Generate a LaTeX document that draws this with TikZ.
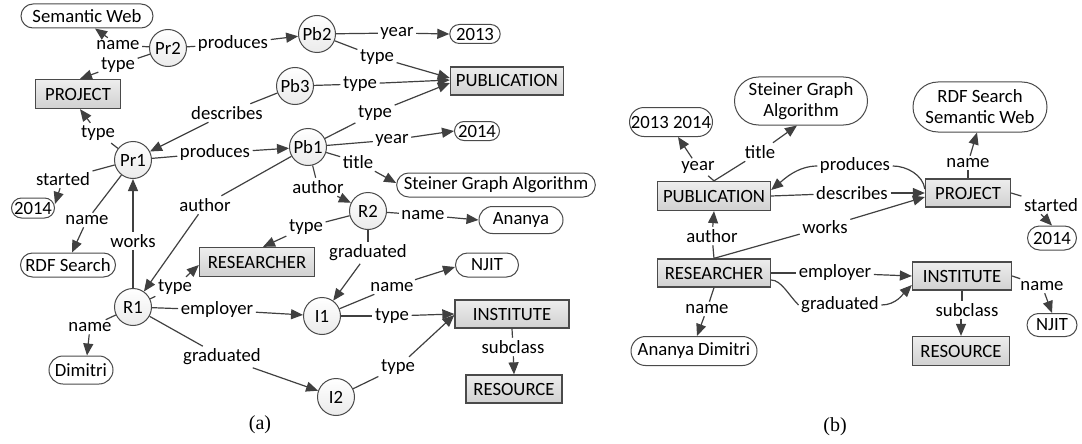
\documentclass[tikz,border=0pt]{standalone}
\usepackage{fontspec}
\setmainfont{Carlito}
\newfontfamily\capfont{Liberation Serif}
\usetikzlibrary{arrows.meta,shapes.misc}
\definecolor{linecol}{HTML}{404040}
\definecolor{edgecol}{HTML}{4A4A4A}
\begin{document}
\begin{tikzpicture}[x=1pt,y=-1pt,
  font=\fontsize{18.7}{21}\selectfont,
  lnk/.style={draw=linecol, line width=1.2pt},
  arr/.style={lnk, -{Triangle[length=12pt,width=10pt]}},
  inst/.style={circle, draw=edgecol, line width=1pt, top color=white, bottom color=gray!16,
               minimum size=37pt, inner sep=0pt},
  cls/.style={rectangle, draw=edgecol, line width=1.3pt, top color=gray!14, bottom color=gray!36,
              minimum height=28pt, inner sep=0pt},
  val/.style={rounded rectangle, draw=edgecol, line width=1pt, fill=white,
              minimum height=24pt, inner xsep=4pt, inner ysep=0pt},
  lbl/.style={inner sep=2.5pt},
  capt/.style={font=\capfont\fontsize{20}{22}\selectfont}]
\useasboundingbox (0,0) rectangle (1082,444);

% ---------------- (a) instance graph ----------------
\node[inst] (aPr2) at (168,48) {Pr2};
\node[inst] (aPb2) at (317,34) {Pb2};
\node[inst] (aPb3) at (295,86) {Pb3};
\node[inst] (aPb1) at (308,147) {Pb1};
\node[inst] (aPr1) at (133,160) {Pr1};
\node[inst] (aR2) at (368,211) {R2};
\node[inst] (aR1) at (133,307) {R1};
\node[inst] (aI1) at (322,316) {I1};
\node[inst] (aI2) at (336,397) {I2};

\node[cls, minimum width=85pt, minimum height=29pt] (aProject) at (78,94) {PROJECT};
\node[cls, minimum width=113pt] (aPub) at (507,81) {PUBLICATION};
\node[cls, minimum width=115pt, minimum height=29pt] (aRes) at (257,262) {RESEARCHER};
\node[cls, minimum width=114pt] (aInst) at (512,314) {INSTITUTE};
\node[cls, minimum width=96pt] (aResource) at (514,389) {RESOURCE};

\node[val, minimum width=140pt] (aSemWeb) at (87,16) {Semantic Web};
\node[val, minimum width=50pt, minimum height=19pt] (a2013) at (475,34) {2013};
\node[val, minimum width=53pt, minimum height=19pt] (a2014b) at (477,131) {2014};
\node[val, minimum width=198pt] (aSteiner) at (496,185) {Steiner Graph Algorithm};
\node[val, minimum width=92pt, minimum height=27pt] (aAnanya) at (521,220) {Ananya};
\node[val, minimum width=71pt] (aNJIT) at (487,265) {NJIT};
\node[val, minimum width=72pt, minimum height=28pt] (aDimitri) at (81,370) {Dimitri};
\node[val, minimum width=51pt, minimum height=20pt] (a2014) at (33,208) {2014};
\node[val, minimum width=103pt] (aRDF) at (68,265) {RDF Search};

% edge labels
\node[lbl] (l1) at (118,45) {name};
\node[lbl] (l2) at (118,65) {type};
\node[lbl] (l3) at (233,44) {produces};
\node[lbl] (l4) at (397,33) {year};
\node[lbl] (l5) at (377,57) {type};
\node[lbl] (l6) at (360,84) {type};
\node[lbl] (l7) at (375,113) {type};
\node[lbl] (l8) at (392,140) {year};
\node[lbl] (l9) at (358,162) {title};
\node[lbl] (l10) at (318,187) {author};
\node[lbl] (l11) at (423,215) {name};
\node[lbl] (l12) at (306,227) {type};
\node[lbl] (l13) at (368,253) {graduated};
\node[lbl] (l14) at (392,287) {name};
\node[lbl] (l15) at (392,316) {type};
\node[lbl] (l16) at (398,367) {type};
\node[lbl] (l17) at (513,347) {subclass};
\node[lbl] (l18) at (222,357) {graduated};
\node[lbl] (l19) at (217,310) {employer};
\node[lbl] (l20) at (175,287) {type};
\node[lbl] (l21) at (90,327) {name};
\node[lbl] (l22) at (133,241) {works};
\node[lbl] (l23) at (205,205) {author};
\node[lbl] (l24) at (215,153) {produces};
\node[lbl] (l25) at (227,113) {describes};
\node[lbl] (l26) at (98,133) {type};
\node[lbl] (l27) at (63,179) {started};
\node[lbl] (l28) at (87,220) {name};

% connectors
\draw[lnk] (aPr2) -- (l1);  \draw[arr] (l1) -- ([xshift=8pt]aSemWeb.south);
\draw[lnk] (aPr2) -- (l2);  \draw[arr] (l2) -- ([xshift=2pt]aProject.north);
\draw[lnk] (aPr2) -- (l3);  \draw[arr] (l3) -- (aPb2);
\draw[lnk] (aPb2) -- (l4);  \draw[arr] (l4) -- (a2013.west);
\draw[lnk] (aPb2) -- (l5);  \draw[arr] (l5) -- ([yshift=3pt]aPub.west);
\draw[lnk] (aPb3) -- (l6);  \draw[arr] (l6) -- ([yshift=1pt]aPub.west);
\draw[lnk] (aPb1) -- (l7);  \draw[arr] (l7) -- ([yshift=-2pt]aPub.west);
\draw[lnk] (aPb1) -- (l8);  \draw[arr] (l8) -- (a2014b.west);
\draw[lnk] (aPb1) -- (l9);  \draw[arr] (l9) -- ([yshift=2pt]aSteiner.west);
\draw[lnk] (aPb1) -- (l10); \draw[arr] (l10) -- (aR2);
\draw[lnk] (aR2) -- (l11);  \draw[arr] (l11) -- (aAnanya.west);
\draw[lnk] (aR2) -- (l12);  \draw[arr] (l12) -- ([xshift=6pt]aRes.north);
\draw[lnk] (aR2) -- (l13);  \draw[arr] (l13) -- (aI1);
\draw[lnk] (aI1) -- (l14);  \draw[arr] (l14) -- ([yshift=-2pt]aNJIT.west);
\draw[lnk] (aI1) -- (l15);  \draw[arr] (l15) -- (aInst.west);
\draw[lnk] (aI2) -- (l16);  \draw[arr] (l16) -- ([yshift=-1pt]aInst.west);
\draw[lnk] (aInst.south) -- (l17); \draw[arr] (l17) -- (aResource.north);
\draw[lnk] (aR1) -- (l18);  \draw[arr] (l18) -- (aI2);
\draw[lnk] (aR1) -- (l19);  \draw[arr] (l19) -- (aI1);
\draw[lnk] (aR1) -- (l20);  \draw[arr] (l20) -- ([yshift=-3pt]aRes.west);
\draw[lnk] (aR1) -- (l21);  \draw[arr] (l21) -- ([xshift=6pt]aDimitri.north);
\draw[lnk] (aR1) -- (l22);  \draw[arr] (l22) -- (aPr1);
\draw[lnk] (aPb1) -- (l23); \draw[arr] (l23) -- (aR1);
\draw[lnk] (aPr1) -- (l24); \draw[arr] (l24) -- (aPb1);
\draw[lnk] (aPb3) -- (l25); \draw[arr] (l25) -- (aPr1);
\draw[lnk] (aPr1) -- (l26); \draw[arr] (l26) -- ([xshift=2pt]aProject.south);
\draw[lnk] (aPr1) -- (l27); \draw[arr] (l27) -- ([yshift=4pt]a2014.east);
\draw[lnk] (aPr1) -- (l28); \draw[arr] (l28) -- ([xshift=4pt]aRDF.north);

\node[capt] (capA) at (260,425) {(a)};

% ---------------- (b) summary graph ----------------
\node[val, minimum width=91pt, minimum height=29pt] (bYears) at (671,122) {2013 2014};
\node[val, align=center, minimum width=141pt, minimum height=48pt] (bSteiner) at (801,101) {Steiner Graph\\Algorithm};
\node[val, align=center, minimum width=142pt, minimum height=50pt] (bRDF) at (980,107) {RDF Search\\Semantic Web};
\node[cls, minimum width=113pt, minimum height=29pt] (bPub) at (714,196) {PUBLICATION};
\node[cls, minimum width=85pt] (bProject) at (968,193) {PROJECT};
\node[val, minimum width=57pt] (b2014) at (1052,238) {2014};
\node[cls, minimum width=113pt] (bRes) at (714,273) {RESEARCHER};
\node[cls, minimum width=99pt] (bInst) at (962,276) {INSTITUTE};
\node[val, minimum width=58pt, minimum height=23pt] (bNJIT) at (1052,325) {NJIT};
\node[cls, minimum width=97pt, minimum height=29pt] (bResource) at (961,351) {RESOURCE};
\node[val, minimum width=134pt, minimum height=29pt] (bAD) at (694,351) {Ananya Dimitri};

\node[lbl] (m1) at (698,167) {year};
\node[lbl] (m2) at (760,152) {title};
\node[lbl] (m3) at (855,166) {produces};
\node[lbl] (m4) at (852,193) {describes};
\node[lbl] (m5) at (825,227) {works};
\node[lbl] (m6) at (712,236) {author};
\node[lbl] (m7) at (968,163) {name};
\node[lbl] (m8) at (1051,205) {started};
\node[lbl] (m9) at (835,273) {employer};
\node[lbl] (m10) at (840,305) {graduated};
\node[lbl] (m11) at (1042,286) {name};
\node[lbl] (m12) at (967,310) {subclass};
\node[lbl] (m13) at (707,309) {name};

\draw[lnk] (bPub.north) -- (m1); \draw[arr] (m1) -- ([xshift=7pt]bYears.south);
\draw[lnk] (bPub.north) -- (m2); \draw[arr] (m2) -- ([xshift=-4pt]bSteiner.south);
\draw[lnk] ([yshift=4pt]bProject.west) .. controls +(-2,-14) and +(14,0) .. (m3.east);
\draw[arr] (m3.west) .. controls +(-20,0) and +(12,-10) .. ([yshift=6pt]bPub.east);
\draw[lnk] (bPub.east) -- (m4); \draw[arr] (m4) -- (bProject.west);
\draw[lnk] (bRes.north) -- (m5); \draw[arr] (m5) -- ([yshift=-4pt]bProject.west);
\draw[lnk] (bRes.north) -- (m6); \draw[arr] (m6) -- (bPub.south);
\draw[lnk] (bProject.north) -- (m7); \draw[arr] (m7) -- ([xshift=-3pt]bRDF.south);
\draw[lnk] (bProject.east) -- (m8); \draw[arr] ([xshift=-10pt]m8.south) -- (b2014.north);
\draw[lnk] (bRes.east) -- (m9); \draw[arr] (m9) -- (bInst.west);
\draw[lnk] ([yshift=-7pt]bRes.east) .. controls +(10,0) and +(-10,-10) .. (m10.west);
\draw[arr] (m10.east) .. controls +(15,0) and +(-8,8) .. ([yshift=-9pt]bInst.west);
\draw[lnk] (bInst.east) -- (m11); \draw[arr] (m11) -- (bNJIT.north);
\draw[lnk] (bInst.south) -- (bInst.south |- m12.north);
\draw[arr] (bResource.north |- m12.south) -- (bResource.north);
\draw[lnk] (bRes.south) -- (m13); \draw[arr] (m13) -- ([xshift=3pt]bAD.north);

\node[capt] (capB) at (835,427) {(b)};
\end{tikzpicture}
\end{document}
